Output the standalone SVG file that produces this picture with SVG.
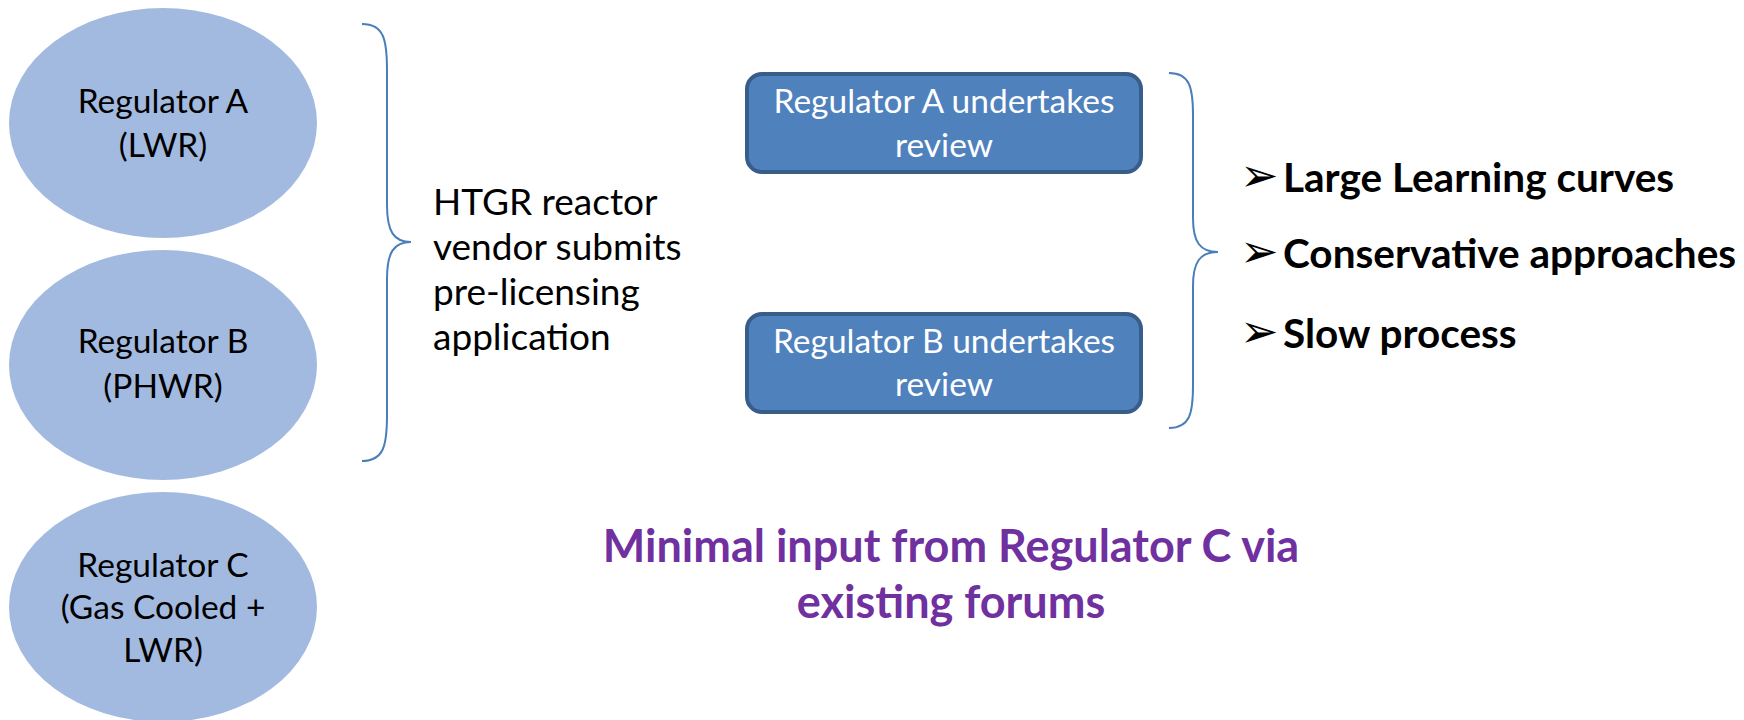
<svg xmlns="http://www.w3.org/2000/svg" width="1744" height="720" viewBox="0 0 1744 720">
<style>
.ell{fill:#A3BAE0;}
.box{fill:#4F81BD;stroke:#385D8A;stroke-width:4;}
.brace{fill:none;stroke:#4A7EBB;stroke-width:2;}
.t{font-family:Lato,"Open Sans",sans-serif;font-size:33.5px;fill:#000;}
.v{font-family:Lato,"Open Sans",sans-serif;font-size:37px;fill:#000;}
.c{text-anchor:middle;}
.w{fill:#fff;}
.b{font-family:Lato,"Open Sans",sans-serif;font-size:40.5px;font-weight:bold;fill:#000;}
.p{font-family:Lato,"Open Sans",sans-serif;font-size:45px;font-weight:bold;fill:#7030A0;text-anchor:middle;}
.bul{font-family:"DejaVu Sans",sans-serif;font-size:46px;fill:#000;}
</style>
<rect width="1744" height="720" fill="#fff"/>
<g id="regA">
<ellipse class="ell" cx="163" cy="123" rx="154" ry="115"/>
<text class="t c" x="163" y="113">Regulator A</text>
<text class="t c" x="163" y="157">(LWR)</text>
</g>
<g id="regB">
<ellipse class="ell" cx="163" cy="365" rx="154" ry="115"/>
<text class="t c" x="163" y="353">Regulator B</text>
<text class="t c" x="163" y="398">(PHWR)</text>
</g>
<g id="regC">
<ellipse class="ell" cx="163" cy="607" rx="154" ry="115"/>
<text class="t c" x="163" y="577">Regulator C</text>
<text class="t c" x="163" y="619">(Gas Cooled +</text>
<text class="t c" x="163" y="662">LWR)</text>
</g>
<g id="connectors">
<path class="brace" d="M362,24 C384,24 387,40 387,70 L387,205 C387,232 394,242 411,242 C394,242 387,252 387,279 L387,415 C387,445 384,461 362,461"/>
<path class="brace" d="M1169,73 C1190,73 1193,88 1193,115 L1193,218 C1193,242 1200,252 1218,252 C1200,252 1193,262 1193,286 L1193,386 C1193,413 1190,428 1169,428"/>
</g>
<g id="vendor">
<text class="v" x="433" y="215">HTGR reactor</text>
<text class="v" x="433" y="260">vendor submits</text>
<text class="v" x="433" y="305">pre-licensing</text>
<text class="v" x="433" y="350">application</text>
</g>
<g id="reviewA">
<rect class="box" x="747" y="74" width="394" height="98" rx="15"/>
<text class="t c w" x="944" y="113">Regulator A undertakes</text>
<text class="t c w" x="944" y="157">review</text>
</g>
<g id="reviewB">
<rect class="box" x="747" y="314" width="394" height="98" rx="15"/>
<text class="t c w" x="944" y="353">Regulator B undertakes</text>
<text class="t c w" x="944" y="396">review</text>
</g>
<g id="outcomes">
<text class="bul" x="1240" y="191">➢</text>
<text class="b" x="1283" y="192">Large Learning curves</text>
<text class="bul" x="1240" y="267">➢</text>
<text class="b" x="1283" y="268">Conservative approaches</text>
<text class="bul" x="1240" y="347">➢</text>
<text class="b" x="1283" y="348">Slow process</text>
</g>
<g id="regCinput">
<text class="p" x="951" y="562">Minimal input from Regulator C via</text>
<text class="p" x="951" y="618">existing forums</text>
</g>
</svg>
